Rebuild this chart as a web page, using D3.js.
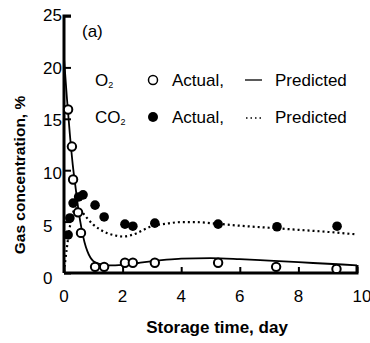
<!DOCTYPE html>
<html><head><meta charset="utf-8">
<script src="https://cdn.jsdelivr.net/npm/d3@7"></script>
<style>
html,body{margin:0;padding:0;background:#fff;}
svg text{font-family:Arial,"Liberation Sans",sans-serif;fill:#000;}
</style></head>
<body>
<svg id="chart" width="370" height="343"></svg>
<script>
// ---- data ----
const xTicks = [0, 2, 4, 6, 8, 10];
const yTicks = [0, 5, 10, 15, 20, 25];

const o2Days   = [0.14, 0.27, 0.31, 0.48, 0.58, 1.06, 1.37, 2.08, 2.35, 3.1, 5.26, 7.24, 9.3];
const o2Actual = [15.9, 12.3, 9.1, 5.9, 3.9, 0.6, 0.6, 1.0, 1.0, 1.0, 1.0, 0.6, 0.4];

const co2Days   = [0.14, 0.2, 0.31, 0.5, 0.65, 1.06, 1.37, 2.08, 2.35, 3.1, 5.26, 7.27, 9.32];
const co2Actual = [3.7, 5.35, 6.8, 7.4, 7.6, 6.6, 5.45, 4.75, 4.55, 4.85, 4.75, 4.5, 4.55];

const o2PredDays = [0, 0.1, 0.2, 0.3, 0.4, 0.5, 0.6, 0.7, 0.8, 0.9, 1.0, 1.2, 1.5, 2.0, 2.5, 3.0, 3.5, 4.0, 5.0, 6.0, 7.0, 8.0, 9.0, 10.0];
const o2Pred     = [20.9, 17.0, 13.5, 10.5, 8.2, 6.0, 4.3, 3.0, 2.1, 1.5, 1.15, 0.9, 0.75, 0.8, 0.95, 1.15, 1.3, 1.4, 1.45, 1.35, 1.2, 1.05, 0.9, 0.75];

const co2PredDays = [0, 0.1, 0.2, 0.3, 0.4, 0.5, 0.6, 0.8, 1.0, 1.25, 1.5, 1.75, 2.0, 2.25, 2.5, 2.75, 3.0, 3.5, 4.0, 4.5, 5.0, 6.0, 7.0, 8.0, 9.0, 10.0];
const co2Pred     = [0.1, 2.5, 4.5, 5.8, 6.3, 6.3, 6.0, 5.3, 4.7, 4.2, 3.85, 3.65, 3.55, 3.65, 3.9, 4.25, 4.55, 4.8, 4.95, 4.95, 4.85, 4.6, 4.4, 4.2, 4.0, 3.75];

// ---- drawing ----
const svg = d3.select("#chart");
const x = d3.scaleLinear().domain([0, 10]).range([64, 357]);
const y = d3.scaleLinear().domain([0, 25]).range([273, 16]);

// predicted lines
const line = d3.line().x(d => x(d[0])).y(d => y(d[1])).curve(d3.curveMonotoneX);
svg.append("path").datum(d3.zip(co2PredDays, co2Pred))
  .attr("d", line).attr("fill", "none").attr("stroke", "#000")
  .attr("stroke-width", 2.2).attr("stroke-dasharray", "2,3");
svg.append("path").datum(d3.zip(o2PredDays, o2Pred))
  .attr("d", line).attr("fill", "none").attr("stroke", "#000")
  .attr("stroke-width", 1.8);

// axes
const yAxis = svg.append("g").attr("transform", `translate(${x(0)},0)`)
  .call(d3.axisRight(y).tickValues(yTicks).tickSize(7).tickFormat(""));
const xAxis = svg.append("g").attr("transform", `translate(0,${y(0)})`)
  .call(d3.axisTop(x).tickValues(xTicks).tickSize(6).tickFormat(""));
[xAxis, yAxis].forEach(g => {
  g.select(".domain").attr("stroke", "#000").attr("stroke-width", 3);
  g.selectAll(".tick line").attr("stroke", "#000").attr("stroke-width", 2);
});
yAxis.select(".domain").attr("d", `M7,${y(25)}H0V${y(0)}`);
xAxis.select(".domain").attr("d", `M${x(0)},0H${x(10)}V-8`);

// tick labels
svg.append("g").selectAll("text").data(yTicks).join("text")
  .attr("x", 43).attr("y", d => y(d) + 5 + d * 0.0).attr("dy", d => (25 - d) * 0.25 + "px")
  .attr("font-size", 17).text(d => d);
svg.append("g").selectAll("text").data(xTicks).join("text")
  .attr("x", d => x(d) + (d === 10 ? 5 : 0)).attr("y", 302)
  .attr("text-anchor", "middle").attr("font-size", 17).text(d => d);

// actual points
svg.append("g").selectAll("circle").data(d3.zip(co2Days, co2Actual)).join("circle")
  .attr("cx", d => x(d[0])).attr("cy", d => y(d[1])).attr("r", 4.8).attr("fill", "#000");
svg.append("g").selectAll("circle").data(d3.zip(o2Days, o2Actual)).join("circle")
  .attr("cx", d => x(d[0])).attr("cy", d => y(d[1])).attr("r", 4.2)
  .attr("fill", "#fff").attr("stroke", "#000").attr("stroke-width", 2);

// axis titles
svg.append("text").attr("transform", "translate(25,175) rotate(-90)")
  .attr("text-anchor", "middle").attr("font-size", 15.5).attr("font-weight", "bold")
  .text("Gas concentration, %");
svg.append("text").attr("x", 217).attr("y", 333)
  .attr("text-anchor", "middle").attr("font-size", 17).attr("font-weight", "bold")
  .text("Storage time, day");

// panel label
svg.append("text").attr("x", 82).attr("y", 37).attr("font-size", 17).text("(a)");

// legend
function gas(yc, main) {
  const t = svg.append("text").attr("x", 95).attr("y", yc + 6).attr("font-size", 17);
  t.append("tspan").text(main);
  t.append("tspan").attr("font-size", 9).attr("dy", 2).text("2");
}
gas(80, "O");
gas(117, "CO");
svg.append("circle").attr("cx", 153).attr("cy", 80).attr("r", 4.5)
  .attr("fill", "#fff").attr("stroke", "#000").attr("stroke-width", 1.5);
svg.append("circle").attr("cx", 153).attr("cy", 117).attr("r", 5).attr("fill", "#000");
[80, 117].forEach(yc => svg.append("text").attr("x", 172).attr("y", yc + 6)
  .attr("font-size", 17).text("Actual,"));
svg.append("line").attr("x1", 245).attr("x2", 262).attr("y1", 80).attr("y2", 80)
  .attr("stroke", "#000").attr("stroke-width", 1.3);
svg.append("line").attr("x1", 246).attr("x2", 262).attr("y1", 118).attr("y2", 118)
  .attr("stroke", "#000").attr("stroke-width", 1.5).attr("stroke-dasharray", "1.5,3");
[80, 117].forEach(yc => svg.append("text").attr("x", 275).attr("y", yc + 6)
  .attr("font-size", 17).text("Predicted"));
</script>
</body></html>
